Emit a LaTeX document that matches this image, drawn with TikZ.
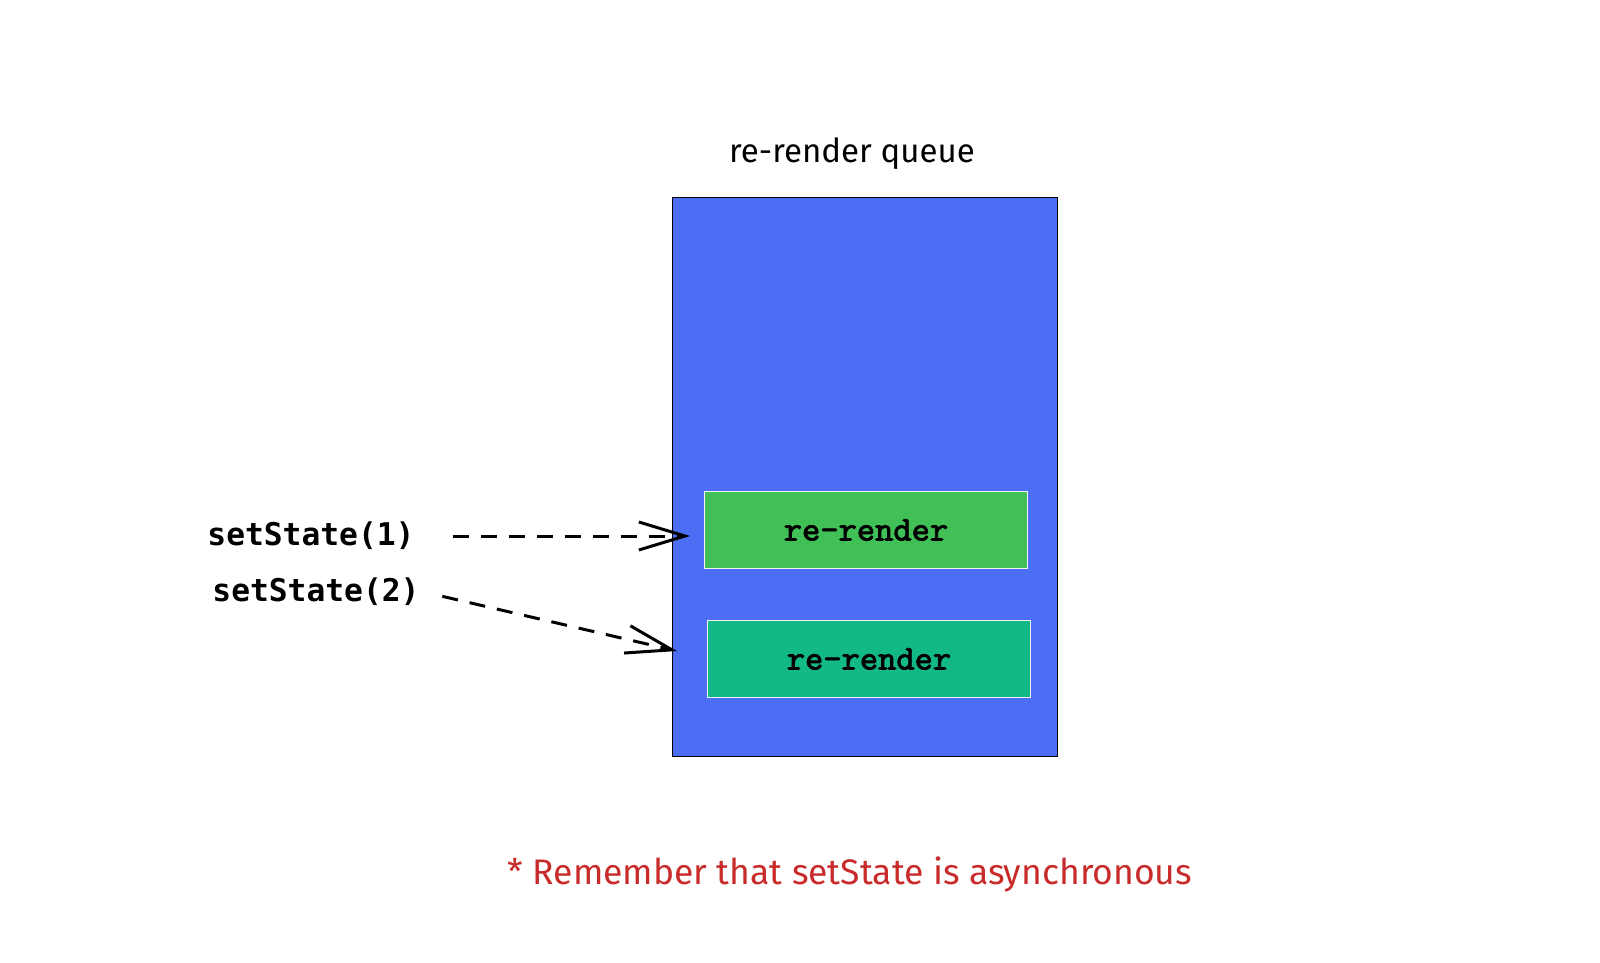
\documentclass[tikz,border=0pt]{standalone}
\usepackage{fontspec}
\usepackage{tikz}
\usetikzlibrary{arrows.meta}
\newfontfamily\codefont{DejaVu Sans Mono}
\newfontfamily\boxfont[FakeBold=2.2]{Latin Modern Mono}
\newfontfamily\handfont{Fira Sans}
\definecolor{queueblue}{HTML}{4C6EF5}
\definecolor{firstgreen}{HTML}{40C057}
\definecolor{secondgreen}{HTML}{12B886}
\definecolor{notered}{HTML}{C92A2A}
\tikzset{
  queuebox/.style={draw=black, fill=queueblue, line width=0.5pt, inner sep=0pt,
    minimum width=38.5mm, minimum height=55.9mm},
  renderbox/.style={draw=white!95!black, line width=0.5pt, inner sep=0pt,
    minimum width=32.3mm, minimum height=7.7mm,
    font=\boxfont\fontsize{9.9}{11}\selectfont},
  calltext/.style={font=\codefont\bfseries\fontsize{8.9}{10}\selectfont, inner sep=1pt},
  handtext/.style={font=\handfont\fontsize{9.4}{12}\selectfont, inner sep=0pt},
  callarrow/.style={dashed, dash pattern=on 1.6mm off 1.2mm, line width=0.85pt,
    -{Straight Barb[length=4.6mm, width=2.8mm]}}
}
\begin{document}
\begin{tikzpicture}[x=0.1mm, y=-0.1mm]
 \useasboundingbox (0,0) rectangle (1600,963);

 \node (title) at (852,154) [handtext] {re-render queue}; % 上の見出し
 \node (queue) at (865,477) [queuebox] {};                % 青い箱

 \node (r1) at (866,530) [renderbox, fill=firstgreen] {re-render};
 \node (r2) at (869,659) [renderbox, fill=secondgreen] {re-render};

 \node (s1) at (311,536) [calltext] {setState(1)};
 \node (s2) at (316,592) [calltext] {setState(2)};

 \coordinate (e1) at (690,536); % 矢印1の先
 \coordinate (e2) at (677,651); % 矢印2の先

 \draw [callarrow, shorten <=3.4mm] (s1.east) -- (e1);
 \draw [callarrow, shorten <=1.9mm] (s2.east) -- (e2);

 \node (note) at (850,874) [handtext, text=notered, font=\handfont\fontsize{10.1}{12}\selectfont] {* Remember that setState is asynchronous};
\end{tikzpicture}
\end{document}
